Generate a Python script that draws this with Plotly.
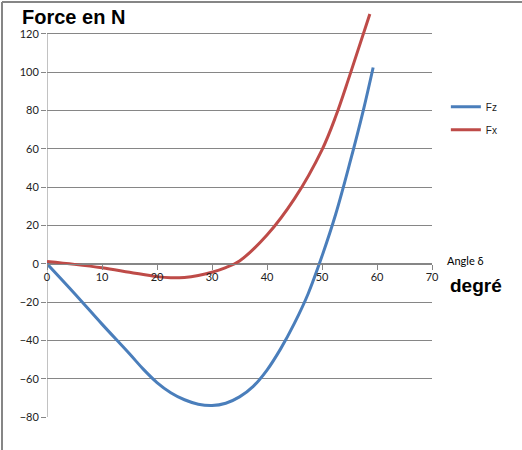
import plotly.graph_objects as go

# Data
angle_fz = [0, 5, 10, 15, 17.5, 20, 22.5, 25, 27.5, 30, 32.5, 35, 37.5, 40, 42.5, 45, 47.5, 50, 52.5, 55, 57.5, 59.3]
fz = [0, -15.5, -31.5, -47, -55, -62, -67.3, -71, -73.3, -74, -72.8, -69.5, -64, -55.5, -44.3, -31, -15.5, 4, 26, 52, 80, 102.5]

angle_fx = [0, 5, 10, 15, 20, 22.5, 25, 27.5, 30, 32.5, 35, 40, 45, 50, 52.5, 55, 58.7]
fx = [1.2, -0.3, -2.1, -4.4, -6.7, -7.3, -7.1, -6.1, -4.4, -2.0, 1.5, 15, 34, 59.5, 77, 98, 130.4]

x_ticks = [0, 10, 20, 30, 40, 50, 60, 70]
y_ticks = [-80, -60, -40, -20, 0, 20, 40, 60, 80, 100, 120]

GRID = "#868686"
TICKFONT = dict(family="Lato, Liberation Sans, sans-serif", size=11, color="#222222")

fig = go.Figure()
fig.add_trace(go.Scatter(x=angle_fz, y=fz, mode="lines", name="Fz",
                         line=dict(color="#4A7EBB", width=3, shape="spline"),
                         legendgroup="a"))
fig.add_trace(go.Scatter(x=angle_fx, y=fx, mode="lines", name="Fx",
                         line=dict(color="#BE4B48", width=3, shape="spline"),
                         legendgroup="b"))

YMIN, YMAX = -80, 132
fig.update_layout(
    width=522, height=450,
    margin=dict(l=47, r=90, t=11, b=33, autoexpand=False),
    paper_bgcolor="white", plot_bgcolor="white",
    showlegend=True,
    legend=dict(x=1.036, y=0.80, xanchor="left", yanchor="top",
                font=dict(family="Liberation Sans, Arial, sans-serif", size=10, color="#222222"),
                tracegroupgap=4, bgcolor="rgba(0,0,0,0)"),
    xaxis=dict(range=[0, 70], tickvals=x_ticks, showgrid=False, zeroline=False,
               showline=True, linecolor=GRID, linewidth=1,
               ticks="outside", ticklen=5, tickcolor=GRID, tickwidth=1,
               anchor="free", position=(0 - YMIN) / (YMAX - YMIN),
               ticklabelstandoff=-2,
               tickfont=TICKFONT),
    yaxis=dict(range=[YMIN, YMAX], tickvals=y_ticks, showgrid=True, gridcolor=GRID,
               gridwidth=1, zeroline=False, showline=False,
               ticks="outside", ticklen=5, tickcolor=GRID, tickwidth=1,
               tickfont=TICKFONT),
)

# left axis line (only from -80 to 120)
fig.add_shape(type="line", xref="x", yref="y", x0=0, x1=0, y0=-80, y1=120,
              line=dict(color=GRID, width=1), layer="below")

# page pixel -> paper helpers
def px_x(p):
    return (p - 47) / 385.0

def px_y(p):
    return (417 - p) / 406.0

# outer chart border (left and top edges visible)
fig.add_shape(type="line", xref="paper", yref="paper",
              x0=px_x(2), x1=px_x(2), y0=px_y(470), y1=px_y(2),
              line=dict(color=GRID, width=2))
fig.add_shape(type="line", xref="paper", yref="paper",
              x0=px_x(2), x1=px_x(540), y0=px_y(2), y1=px_y(2),
              line=dict(color=GRID, width=2))

fig.add_annotation(text="<b>Force en N</b>", xref="paper", yref="paper",
                   x=px_x(73.5), y=px_y(17), xanchor="center", yanchor="middle",
                   showarrow=False,
                   font=dict(family="Liberation Sans, Arial, sans-serif", size=20, color="black"))
fig.add_annotation(text="Angle δ", xref="paper", yref="paper",
                   x=px_x(465.5), y=px_y(260), xanchor="center", yanchor="middle",
                   showarrow=False,
                   font=dict(family="Lato, Liberation Sans, sans-serif", size=11, color="black"))
fig.add_annotation(text="<b>degré</b>", xref="paper", yref="paper",
                   x=px_x(476), y=px_y(285), xanchor="center", yanchor="middle",
                   showarrow=False,
                   font=dict(family="Liberation Sans, Arial, sans-serif", size=19, color="black"))

fig.write_html("out.html", config={"displayModeBar": False},
               post_script="document.body.style.margin='0px';")
